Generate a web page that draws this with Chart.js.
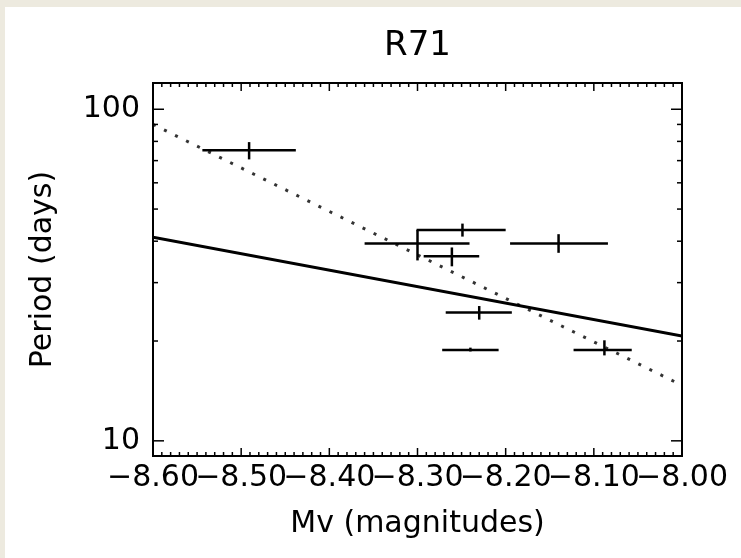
<!DOCTYPE html>
<html>
<head>
    <meta charset="utf-8">
    <title>R71</title>
    <script src="https://cdn.jsdelivr.net/npm/chart.js@4.4.0/dist/chart.umd.min.js"></script>
    <style>
        html, body { margin: 0; padding: 0; background: #edeadf; overflow: hidden; }
        #chart { position: absolute; left: 5px; top: 7px; background: #fff; }
    </style>
</head>
<body>
    <canvas id="chart" width="736" height="551"></canvas>

    <script>
        // magnitudes (centre, left end, right end of the horizontal error bar)
        const mv    = [-8.491, -8.300, -8.249, -8.261, -8.140, -8.230, -8.240, -8.088];
        const mvLo  = [-8.544, -8.360, -8.301, -8.293, -8.195, -8.268, -8.272, -8.123];
        const mvHi  = [-8.438, -8.241, -8.200, -8.230, -8.084, -8.193, -8.208, -8.057];
        // periods in days (centre, lower, upper)
        const period   = [75.2, 39.4, 43.2, 36.0, 39.4, 24.4, 18.8, 18.8];
        const periodLo = [70.6, 35.0, 41.3, 33.6, 36.9, 23.2, 18.6, 18.1];
        const periodHi = [79.6, 43.3, 45.2, 38.3, 42.0, 25.5, 19.1, 20.1];

        // fitted relations, end points
        const fitMv = [-8.6, -8.0];
        const fitSolid = [41.1, 20.7];
        const fitDotted = [90, 14.7];

        // axes
        const xTicks = [-8.6, -8.5, -8.4, -8.3, -8.2, -8.1, -8.0];
        const xTickLabels = ['\u22128.60', '\u22128.50', '\u22128.40', '\u22128.30', '\u22128.20', '\u22128.10', '\u22128.00'];
        const yTicks = [10, 100];
        const yTickLabels = ['10', '100'];
        const yMinor = [20, 30, 40, 50, 60, 70, 80, 90];
        const title = 'R71';

        const font = 'DejaVu Sans';

        const datasets = [];
        mv.forEach((m, i) => {
            datasets.push({ data: [{ x: mvLo[i], y: period[i] }, { x: mvHi[i], y: period[i] }], borderWidth: 2.5 });
            datasets.push({ data: [{ x: m, y: periodLo[i] }, { x: m, y: periodHi[i] }], borderWidth: 2.5 });
        });
        datasets.push({ data: fitMv.map((m, i) => ({ x: m, y: fitSolid[i] })), borderWidth: 3 });
        datasets.push({ data: fitMv.map((m, i) => ({ x: m, y: fitDotted[i] })), borderWidth: 3, borderDash: [3, 9.3], borderColor: '#333' });

        // IDL style frame with inward ticks on all four sides, title over the plot box
        const idlAxes = {
            id: 'idlAxes',
            afterDatasetsDraw(chart) {
                const { ctx, chartArea: a, scales: { x, y } } = chart;
                ctx.save();
                ctx.strokeStyle = '#000';
                ctx.lineWidth = 1.5;
                const tick = (x0, y0, x1, y1) => { ctx.beginPath(); ctx.moveTo(x0, y0); ctx.lineTo(x1, y1); ctx.stroke(); };

                for (let k = 0; k < xTicks.length; k++) {
                    const px = x.getPixelForValue(xTicks[k]);
                    tick(px, a.bottom, px, a.bottom - 8);
                    tick(px, a.top, px, a.top + 8);
                    if (k < xTicks.length - 1) {
                        for (let j = 1; j < 10; j++) {
                            const v = xTicks[k] + (xTicks[k + 1] - xTicks[k]) * j / 10;
                            const pm = x.getPixelForValue(v);
                            tick(pm, a.bottom, pm, a.bottom - 4);
                            tick(pm, a.top, pm, a.top + 4);
                        }
                    }
                }
                yTicks.forEach(v => {
                    const py = y.getPixelForValue(v);
                    tick(a.left, py, a.left + 11, py);
                    tick(a.right, py, a.right - 11, py);
                });
                yMinor.forEach(v => {
                    const py = y.getPixelForValue(v);
                    tick(a.left, py, a.left + 5, py);
                    tick(a.right, py, a.right - 5, py);
                });

                ctx.lineWidth = 2;
                ctx.strokeRect(a.left, a.top, a.right - a.left, a.bottom - a.top);

                ctx.fillStyle = '#000';
                ctx.font = '34px "' + font + '"';
                ctx.textAlign = 'center';
                ctx.textBaseline = 'middle';
                ctx.fillText(title, (a.left + a.right) / 2, 39);
                ctx.restore();
            }
        };

        const ctx = document.getElementById('chart').getContext('2d');
        const myChart = new Chart(ctx, {
            type: 'line',
            data: { datasets: datasets },
            options: {
                responsive: false,
                animation: false,
                layout: { padding: { left: 0, right: 59, top: 76, bottom: 0 } },
                elements: {
                    line: { borderColor: '#000', borderWidth: 2.5, tension: 0, borderCapStyle: 'butt' },
                    point: { radius: 0, hoverRadius: 0 }
                },
                plugins: {
                    legend: { display: false },
                    tooltip: { enabled: false },
                    title: { display: false }
                },
                scales: {
                    x: {
                        type: 'linear',
                        min: -8.6,
                        max: -8.0,
                        afterBuildTicks: s => { s.ticks = xTicks.map(v => ({ value: v })); },
                        afterFit: s => { s.height = 102; s.paddingLeft = 0; s.paddingRight = 0; },
                        grid: { display: false, drawTicks: false },
                        border: { display: false },
                        ticks: {
                            autoSkip: false,
                            maxRotation: 0,
                            padding: 4,
                            color: '#000',
                            font: { family: font, size: 30 },
                            callback: (v, i) => xTickLabels[i]
                        },
                        title: {
                            display: true,
                            text: 'Mv (magnitudes)',
                            color: '#000',
                            font: { family: font, size: 30 },
                            padding: { top: 0, bottom: 16 }
                        }
                    },
                    y: {
                        type: 'logarithmic',
                        min: 9,
                        max: 120,
                        afterBuildTicks: s => { s.ticks = yTicks.map(v => ({ value: v })); },
                        afterFit: s => { s.width = 148; s.paddingTop = 0; s.paddingBottom = 0; },
                        grid: { display: false, drawTicks: false },
                        border: { display: false },
                        ticks: {
                            padding: 13,
                            color: '#000',
                            font: { family: font, size: 30 },
                            callback: (v, i) => yTickLabels[i]
                        },
                        title: {
                            display: true,
                            text: 'Period (days)',
                            color: '#000',
                            font: { family: font, size: 30 },
                            padding: { top: 20, bottom: 0 }
                        }
                    }
                }
            },
            plugins: [idlAxes]
        });
    </script>
</body>
</html>
